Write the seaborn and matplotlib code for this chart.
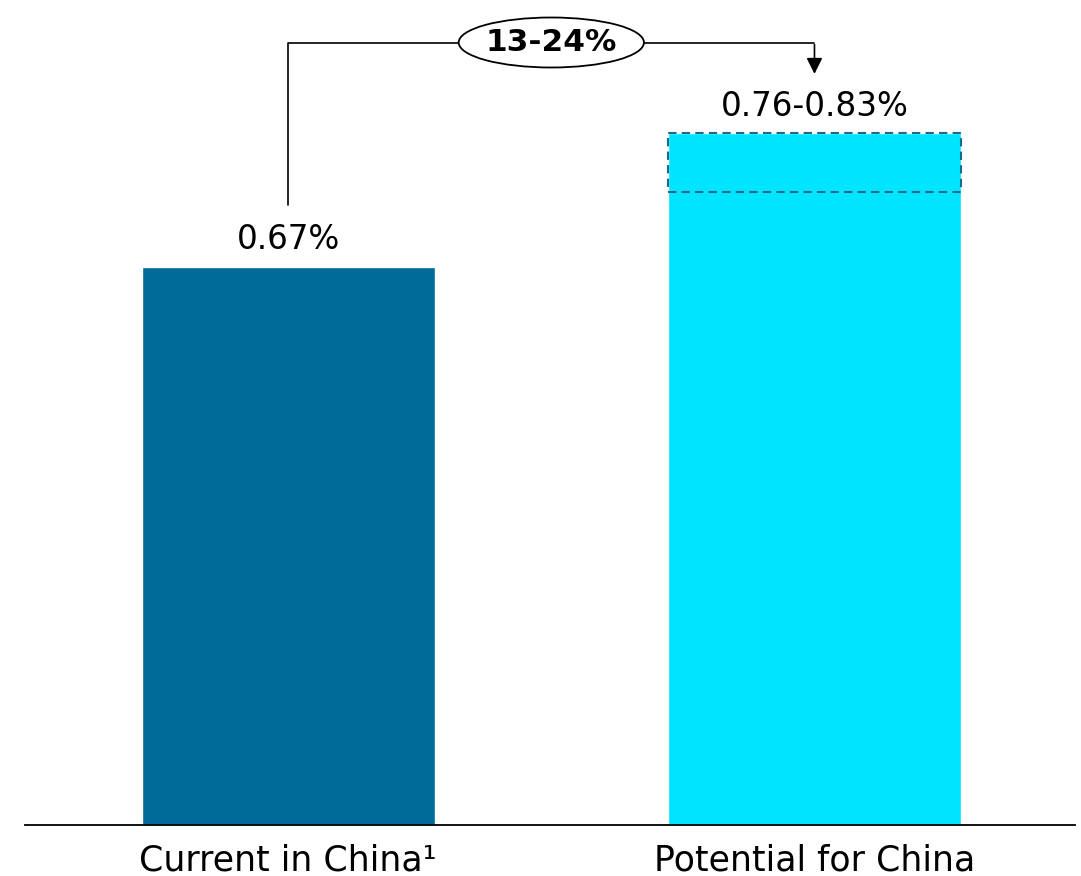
import seaborn as sns
import matplotlib.pyplot as plt
from matplotlib.patches import Ellipse

# data
categories = ["Current in China\u00b9", "Potential for China"]
values = [0.67, 0.83]
potential_low = 0.76
potential_high = 0.83
value_labels = ["0.67%", "0.76-0.83%"]
uplift_label = "13-24%"

dark_blue = "#006B99"
cyan = "#00E5FF"

sns.set_style("white")
plt.rcParams['font.family'] = ['DejaVu Sans']
plt.rcParams['text.color'] = 'black'
plt.rcParams['xtick.color'] = 'black'

fig = plt.figure(figsize=(10.81, 8.76), dpi=100)
ax = fig.add_axes([25 / 1081, 1 - 825 / 876, 1050 / 1081, 825 / 876])

sns.barplot(x=categories, y=values, palette=[dark_blue, cyan], hue=categories,
            legend=False, width=0.557, saturation=1, ax=ax)

# dashed range box on the potential bar
ax.bar(1, potential_high - potential_low, bottom=potential_low, width=0.557,
       fill=False, edgecolor="#1B6A8C", linestyle=(0, (4, 2.5)), linewidth=1.5)

ax.set_xlim(-0.5, 1.495)
ax.set_ylim(0, 0.99)

# value labels
ax.text(0, values[0] + 0.013, value_labels[0], ha="center", va="bottom", fontsize=23.5)
ax.text(1, potential_high + 0.013, value_labels[1], ha="center", va="bottom", fontsize=23.5)

# bracket with arrow
y_top = 0.939
ax.plot([0, 0, 1], [0.744, y_top, y_top], color="black", lw=1.2, clip_on=False)
ax.annotate("", xy=(1, 0.898), xytext=(1, y_top + 0.001),
            arrowprops=dict(arrowstyle="-|>", color="black", lw=1.2, mutation_scale=24),
            annotation_clip=False)
ell = Ellipse((0.5, y_top), width=0.352, height=0.06, facecolor="white",
              edgecolor="black", lw=1.3, zorder=5, clip_on=False)
ax.add_patch(ell)
ax.text(0.5, y_top, uplift_label, ha="center", va="center", fontsize=22.5,
        fontweight="bold", zorder=6)

# axes styling
sns.despine(ax=ax, left=True)
ax.spines["bottom"].set_color("black")
ax.spines["bottom"].set_linewidth(1.3)
ax.set_yticks([])
ax.tick_params(axis="x", length=0, labelsize=25, pad=13)
ax.set_xlabel("")
ax.set_ylabel("")

fig.savefig("out.png", dpi=100)
